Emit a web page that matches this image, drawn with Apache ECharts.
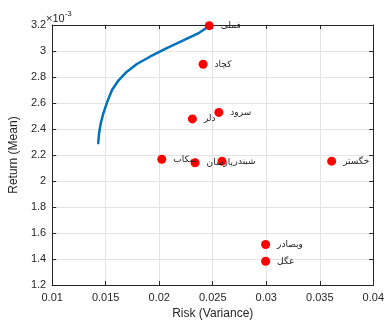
<!DOCTYPE html>
<html><head><meta charset="utf-8">
<script src="https://cdn.jsdelivr.net/npm/echarts@6/dist/echarts.min.js"></script>
<style>html,body{margin:0;padding:0;background:#fff}#c{width:387px;height:325px}</style>
</head><body><div id="c"></div>
<script>
// Efficient frontier (risk, mean return in units of 1e-3)
const frontierRisk   = [0.01430, 0.01434, 0.01438, 0.01454, 0.01478, 0.01515, 0.0156, 0.01622, 0.01698, 0.01791, 0.01913, 0.02066, 0.0222, 0.02373, 0.0247];
const frontierReturn = [2.291, 2.330, 2.367, 2.445, 2.521, 2.611, 2.702, 2.777, 2.841, 2.900, 2.956, 3.020, 3.079, 3.140, 3.192];
// Individual assets
const assetNames  = ['فملی', 'کچاد', 'سرود', 'دلر', 'سکاب', 'پارسان', 'شبندر', 'خگستر', 'وبصادر', 'غگل'];
const assetRisk   = [0.02467, 0.0241, 0.02557, 0.0231, 0.02024, 0.02335, 0.02587, 0.03611, 0.02994, 0.02994];
const assetReturn = [3.195, 2.898, 2.528, 2.478, 2.168, 2.141, 2.153, 2.153, 1.512, 1.383];
const xTicks = [0.01, 0.015, 0.02, 0.025, 0.03, 0.035, 0.04];
const yTicks = [1.2, 1.4, 1.6, 1.8, 2, 2.2, 2.4, 2.6, 2.8, 3, 3.2];

const FONT = '"Liberation Sans", Arial, sans-serif';
const AX = '#262626';
const chart = echarts.init(document.getElementById('c'), null, {renderer: 'canvas'});
const baseX = {
  type: 'value', min: 0.01, max: 0.04, interval: 0.005,
  axisLine: {show: true, onZero: false, lineStyle: {color: AX, width: 1}},
  axisTick: {show: true, inside: true, length: 4, lineStyle: {color: AX}},
};
const baseY = {
  type: 'value', min: 1.2, max: 3.2, interval: 0.2,
  axisLine: {show: true, onZero: false, lineStyle: {color: AX, width: 1}},
  axisTick: {show: true, inside: true, length: 4, lineStyle: {color: AX}},
};
chart.setOption({
  animation: false,
  backgroundColor: '#fff',
  grid: {left: 45, right: 10, top: 25, bottom: 35, containLabel: false},
  xAxis: [
    Object.assign({}, baseX, {
      position: 'bottom',
      name: 'Risk (Variance)', nameLocation: 'middle', nameGap: 22,
      nameTextStyle: {fontFamily: FONT, fontSize: 12, color: AX},
      axisLabel: {fontFamily: FONT, fontSize: 11, color: AX, margin: 7,
        formatter: v => xTicks.includes(+v.toFixed(3)) ? String(+v.toFixed(3)) : ''},
      splitLine: {show: true, lineStyle: {color: '#e3e3e3', width: 1}}
    }),
    Object.assign({}, baseX, {position: 'top', axisLabel: {show: false}, splitLine: {show: false}})
  ],
  yAxis: [
    Object.assign({}, baseY, {
      position: 'left',
      name: 'Return (Mean)', nameLocation: 'middle', nameGap: 30,
      nameTextStyle: {fontFamily: FONT, fontSize: 12, color: AX},
      axisLabel: {fontFamily: FONT, fontSize: 11, color: AX, margin: 6,
        formatter: v => { const r = +v.toFixed(1); return yTicks.includes(r) ? String(r) : ''; }},
      splitLine: {show: true, lineStyle: {color: '#e3e3e3', width: 1}}
    }),
    Object.assign({}, baseY, {position: 'right', axisLabel: {show: false}, splitLine: {show: false}})
  ],
  graphic: [{
    type: 'text', left: 46, top: 10,
    style: {
      text: '{a|×10}{b|-3}',
      rich: {
        a: {fontFamily: FONT, fontSize: 11, fill: AX, padding: [4, 0, 0, 0]},
        b: {fontFamily: FONT, fontSize: 8, fill: AX, padding: [0, 0, 6, 0]}
      }
    }
  }],
  series: [
    {
      type: 'line', xAxisIndex: 0, yAxisIndex: 0, smooth: false, symbol: 'none',
      lineStyle: {color: '#0072BD', width: 2.5, join: 'round', cap: 'round'},
      data: frontierRisk.map((r, i) => [r, frontierReturn[i]]),
      z: 2
    },
    {
      type: 'scatter', xAxisIndex: 0, yAxisIndex: 0, symbol: 'circle', symbolSize: 9,
      itemStyle: {color: '#FF0000', opacity: 1},
      data: assetRisk.map((r, i) => ({value: [r, assetReturn[i]], name: assetNames[i]})),
      label: {show: true, position: 'right', distance: 7, formatter: p => p.name,
        fontFamily: '"Noto Sans", "DejaVu Sans", sans-serif', fontSize: 9, color: '#222'},
      z: 3
    }
  ]
});
</script></body></html>
